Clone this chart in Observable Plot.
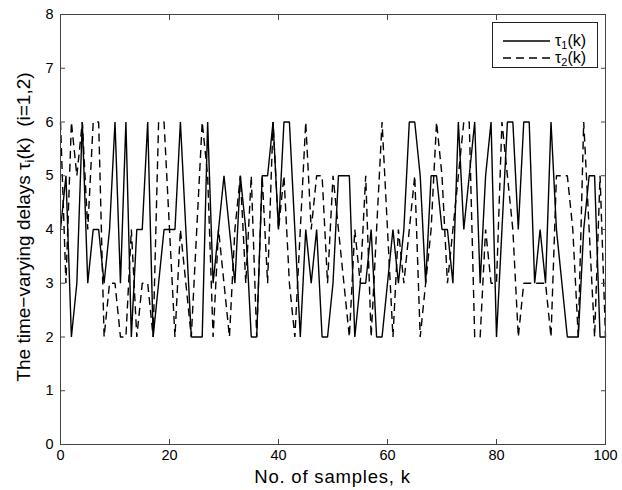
<!DOCTYPE html>
<html><head><meta charset="utf-8">
<script src="https://cdn.jsdelivr.net/npm/d3@7"></script>
<script src="https://cdn.jsdelivr.net/npm/@observablehq/plot@0.6"></script>
<style>
body{margin:0;background:#fff;}
#chart svg{font-family:"Liberation Sans",Arial,Helvetica,sans-serif;}
</style></head><body><div id="chart"></div>
<script>
// tau_1(k), k = 0..100
const tau1 = [4,5,2,3,6,3,4,4,3,4, 6,3,6,2,4,4,6,2,3,4, 4,4,6,4,2,2,2,6,3,4,
  5,4,3,5,4,2,2,5,5,6, 4,6,6,4,2,4,3,4,2,2, 3,5,5,5,2,3,3,4,2,2,
  3,4,3,4,6,6,5,3,5,5, 4,4,3,6,4,5,6,3,5,6, 2,4,6,6,4,6,6,3,4,3,
  6,4,3,2,2,2,4,5,5,2, 2];
// tau_2(k), k = 0..100
const tau2 = [6,3,6,5,6,4,6,6,2,3, 3,2,2,4,2,3,3,2,6,6, 4,2,4,3,2,4,6,5,2,4,
  3,2,4,5,3,5,2,5,3,6, 4,5,3,2,4,6,4,5,5,3, 5,4,3,2,4,3,5,2,4,6,
  4,2,4,3,4,5,2,3,4,6, 5,3,4,5,6,6,2,2,4,3, 3,6,5,4,2,3,3,3,3,3,
  2,5,5,5,4,2,6,4,2,5, 2];
const xTicks = [0,20,40,60,80,100];
const yTicks = [0,1,2,3,4,5,6,7,8];
const xLabel = "No. of samples, k";
const yLabelParts = ["The time\u2212varying delays \u03c4", "i", "(k)  (i=1,2)"];
const legendNames = [["\u03c4","1","(k)"],["\u03c4","2","(k)"]];
const legendDash = [null, "8,5"];

const W = 622, H = 490;
const mL = 60, mR = 17, mT = 14, mB = 46;
const tickFont = 14.5;

const lineOpts = {x: (d,i)=>i, y: d=>d, stroke:"#000", strokeWidth:1.4, strokeLinejoin:"miter", strokeLinecap:"butt"};

const chart = Plot.plot({
  width: W, height: H,
  marginLeft: mL, marginRight: mR, marginTop: mT, marginBottom: mB,
  style: {fontFamily: '"Liberation Sans",Arial,sans-serif', color:"#000", background:"#fff"},
  x: {domain:[0,100]},
  y: {domain:[0,8]},
  marks: [
    Plot.line(tau1, lineOpts),
    Plot.line(tau2, {...lineOpts, strokeDasharray: legendDash[1]}),
    Plot.frame({stroke:"#444"}),
    Plot.axisX({ticks:xTicks, anchor:"bottom", tickSize:-5, tickPadding:10, fontSize:tickFont, label:null, stroke:"#444"}),
    Plot.axisX({ticks:xTicks, anchor:"top", tickSize:-5, tickFormat:()=>"", label:null, stroke:"#444"}),
    Plot.axisY({ticks:yTicks, anchor:"left", tickSize:-5, tickPadding:12, fontSize:tickFont, label:null, stroke:"#444"}),
    Plot.axisY({ticks:yTicks, anchor:"right", tickSize:-5, tickFormat:()=>"", label:null, stroke:"#444"})
  ]
});
document.getElementById("chart").appendChild(chart);

const svg = d3.select(chart);
// x label
svg.append("text").attr("x", (mL + W - mR)/2).attr("y", 483)
  .attr("text-anchor","middle").attr("font-size",18.5).attr("letter-spacing",0.8)
  .attr("fill","#000").text(xLabel);
// y label with subscript
const yl = svg.append("text").attr("transform", `translate(30,${(mT + H - mB)/2 - 2}) rotate(-90)`)
  .attr("text-anchor","middle").attr("font-size",19).attr("fill","#000");
yl.append("tspan").text(yLabelParts[0]);
yl.append("tspan").attr("font-size",13).attr("dy",4).text(yLabelParts[1]);
yl.append("tspan").attr("dy",-4).text(yLabelParts[2]);

// legend
const lg = svg.append("g");
lg.append("rect").attr("x",492.5).attr("y",22.5).attr("width",105).attr("height",45)
  .attr("fill","#fff").attr("stroke","#222");
legendNames.forEach((nm, j) => {
  const yy = 41 + j*17;
  const ln = lg.append("line").attr("x1",503).attr("x2",550).attr("y1",yy).attr("y2",yy)
    .attr("stroke","#000").attr("stroke-width",1.4);
  if (legendDash[j]) ln.attr("stroke-dasharray", legendDash[j]);
  const t = lg.append("text").attr("x",555).attr("y",yy+5).attr("text-anchor","start")
    .attr("font-size",16).attr("fill","#000");
  t.append("tspan").text(nm[0]);
  t.append("tspan").attr("font-size",11).attr("dy",3).text(nm[1]);
  t.append("tspan").attr("dy",-3).text(nm[2]);
});
</script></body></html>
